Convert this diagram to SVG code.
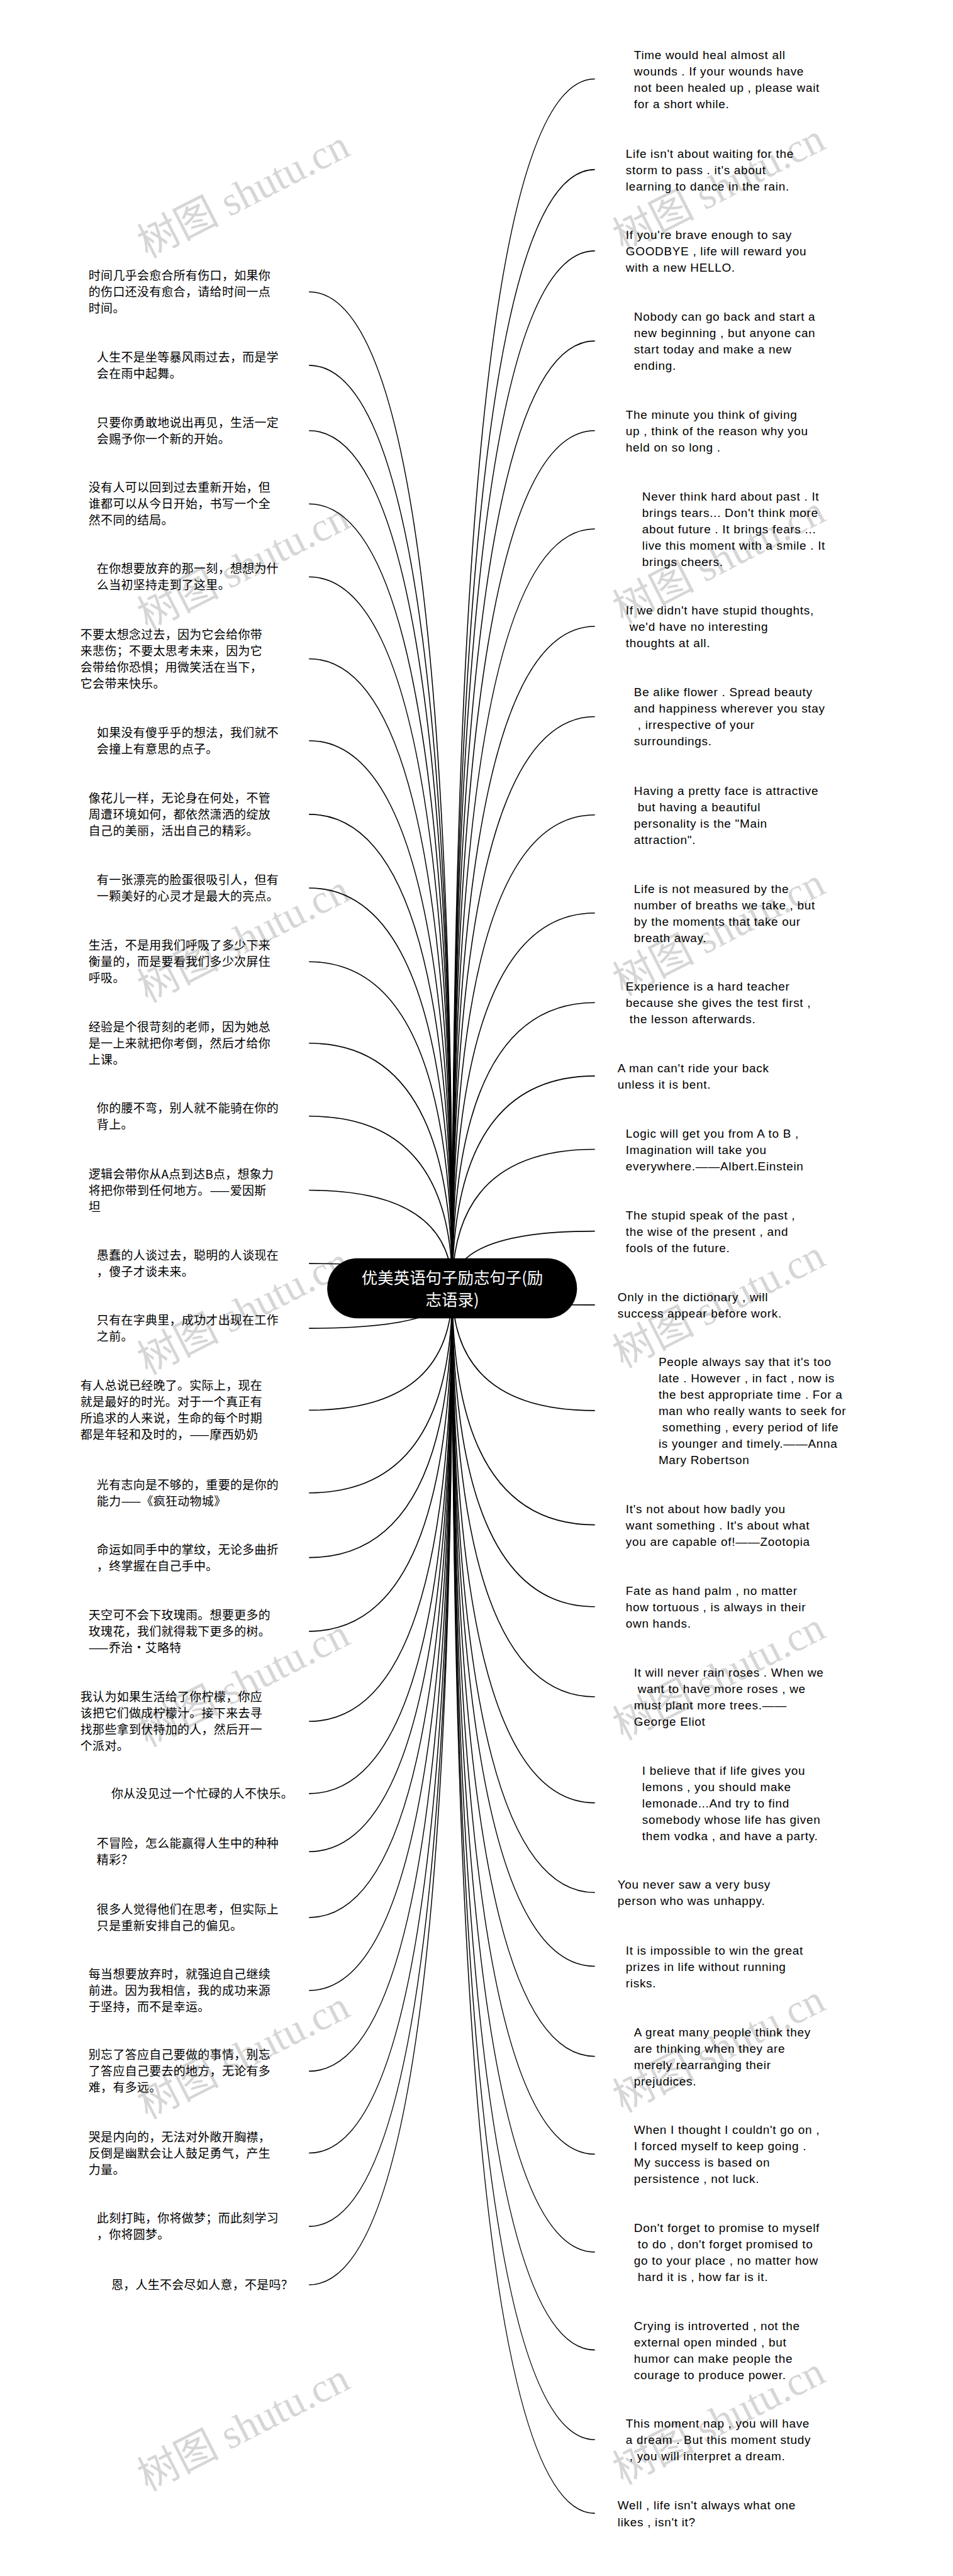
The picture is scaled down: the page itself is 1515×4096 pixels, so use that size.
<svg xmlns="http://www.w3.org/2000/svg" width="1515" height="4096" viewBox="0 0 1515 4096">
<style>
.en{font-family:"Liberation Sans",Arial,"Noto Sans CJK SC",sans-serif;font-size:32px;letter-spacing:1.2px;fill:#000}
.zh{font-family:"Noto Sans CJK SC","Liberation Sans",sans-serif;font-size:32px;letter-spacing:0.6px;fill:#000}
.root{font-family:"Noto Sans CJK SC","Liberation Sans",sans-serif;font-size:43px;fill:#fff;text-anchor:middle}
.wm{font-family:"Liberation Serif","Noto Sans CJK SC",serif;font-size:110px;fill:#d6d6d6}
.c{fill:none;stroke:#000;stroke-width:2.7}
</style>
<rect width="1515" height="4096" fill="#fff"/>
<g transform="scale(0.591797)">
<g id="watermarks">
<text class="wm" transform="translate(396,695) rotate(-27)">树图 shutu.cn</text>
<text class="wm" transform="translate(1673,677) rotate(-27)">树图 shutu.cn</text>
<text class="wm" transform="translate(396,1695) rotate(-27)">树图 shutu.cn</text>
<text class="wm" transform="translate(1673,1677) rotate(-27)">树图 shutu.cn</text>
<text class="wm" transform="translate(396,2695) rotate(-27)">树图 shutu.cn</text>
<text class="wm" transform="translate(1673,2677) rotate(-27)">树图 shutu.cn</text>
<text class="wm" transform="translate(396,3695) rotate(-27)">树图 shutu.cn</text>
<text class="wm" transform="translate(1673,3677) rotate(-27)">树图 shutu.cn</text>
<text class="wm" transform="translate(396,4695) rotate(-27)">树图 shutu.cn</text>
<text class="wm" transform="translate(1673,4677) rotate(-27)">树图 shutu.cn</text>
<text class="wm" transform="translate(396,5695) rotate(-27)">树图 shutu.cn</text>
<text class="wm" transform="translate(1673,5677) rotate(-27)">树图 shutu.cn</text>
<text class="wm" transform="translate(396,6695) rotate(-27)">树图 shutu.cn</text>
<text class="wm" transform="translate(1673,6677) rotate(-27)">树图 shutu.cn</text>
</g>
<g id="connectors">
<path class="c" d="M1215 3462Q1215 212 1598 212"/>
<path class="c" d="M1215 3462Q1215 455.6 1598 455.6"/>
<path class="c" d="M1215 3462Q1215 674 1598 674"/>
<path class="c" d="M1215 3462Q1215 916 1598 916"/>
<path class="c" d="M1215 3462Q1215 1157 1598 1157"/>
<path class="c" d="M1215 3462Q1215 1421 1598 1421"/>
<path class="c" d="M1215 3462Q1215 1683 1598 1683"/>
<path class="c" d="M1215 3462Q1215 1925.5 1598 1925.5"/>
<path class="c" d="M1215 3462Q1215 2189.6 1598 2189.6"/>
<path class="c" d="M1215 3462Q1215 2453 1598 2453"/>
<path class="c" d="M1215 3462Q1215 2694 1598 2694"/>
<path class="c" d="M1215 3462Q1215 2891 1598 2891"/>
<path class="c" d="M1215 3462Q1215 3088 1598 3088"/>
<path class="c" d="M1215 3462Q1215 3308 1598 3308"/>
<path class="c" d="M1215 3462Q1215 3506 1598 3506"/>
<path class="c" d="M1215 3462Q1215 3790 1598 3790"/>
<path class="c" d="M1215 3462Q1215 4097 1598 4097"/>
<path class="c" d="M1215 3462Q1215 4317 1598 4317"/>
<path class="c" d="M1215 3462Q1215 4559 1598 4559"/>
<path class="c" d="M1215 3462Q1215 4844 1598 4844"/>
<path class="c" d="M1215 3462Q1215 5085 1598 5085"/>
<path class="c" d="M1215 3462Q1215 5283 1598 5283"/>
<path class="c" d="M1215 3462Q1215 5525 1598 5525"/>
<path class="c" d="M1215 3462Q1215 5788 1598 5788"/>
<path class="c" d="M1215 3462Q1215 6051 1598 6051"/>
<path class="c" d="M1215 3462Q1215 6314 1598 6314"/>
<path class="c" d="M1215 3462Q1215 6555 1598 6555"/>
<path class="c" d="M1215 3462Q1215 6753 1598 6753"/>
<path class="c" d="M1215 3462Q1215 784 830 784"/>
<path class="c" d="M1215 3462Q1215 981.5 830 981.5"/>
<path class="c" d="M1215 3462Q1215 1157 830 1157"/>
<path class="c" d="M1215 3462Q1215 1354 830 1354"/>
<path class="c" d="M1215 3462Q1215 1550 830 1550"/>
<path class="c" d="M1215 3462Q1215 1770 830 1770"/>
<path class="c" d="M1215 3462Q1215 1990 830 1990"/>
<path class="c" d="M1215 3462Q1215 2188 830 2188"/>
<path class="c" d="M1215 3462Q1215 2386 830 2386"/>
<path class="c" d="M1215 3462Q1215 2584 830 2584"/>
<path class="c" d="M1215 3462Q1215 2803 830 2803"/>
<path class="c" d="M1215 3462Q1215 2999 830 2999"/>
<path class="c" d="M1215 3462Q1215 3198 830 3198"/>
<path class="c" d="M1215 3462Q1215 3395 830 3395"/>
<path class="c" d="M1215 3462Q1215 3569 830 3569"/>
<path class="c" d="M1215 3462Q1215 3789 830 3789"/>
<path class="c" d="M1215 3462Q1215 4011 830 4011"/>
<path class="c" d="M1215 3462Q1215 4185 830 4185"/>
<path class="c" d="M1215 3462Q1215 4383 830 4383"/>
<path class="c" d="M1215 3462Q1215 4625 830 4625"/>
<path class="c" d="M1215 3462Q1215 4819 830 4819"/>
<path class="c" d="M1215 3462Q1215 4975 830 4975"/>
<path class="c" d="M1215 3462Q1215 5152 830 5152"/>
<path class="c" d="M1215 3462Q1215 5348 830 5348"/>
<path class="c" d="M1215 3462Q1215 5565 830 5565"/>
<path class="c" d="M1215 3462Q1215 5785 830 5785"/>
<path class="c" d="M1215 3462Q1215 5982 830 5982"/>
<path class="c" d="M1215 3462Q1215 6139 830 6139"/>
</g>
<g id="root">
<rect x="879" y="3381" width="671" height="161" rx="80" ry="80" fill="#000"/>
<text class="root" x="1215" y="3449">优美英语句子励志句子(励</text>
<text class="root" x="1215" y="3508">志语录)</text>
</g>
<g id="r1"><text class="en" y="158"><tspan x="1703">Time would heal almost all</tspan><tspan x="1703" dy="44">wounds . If your wounds have</tspan><tspan x="1703" dy="44">not been healed up , please wait</tspan><tspan x="1703" dy="44">for a short while.</tspan></text></g>
<g id="r2"><text class="en" y="424"><tspan x="1681">Life isn't about waiting for the</tspan><tspan x="1681" dy="44">storm to pass . it's about</tspan><tspan x="1681" dy="44">learning to dance in the rain.</tspan></text></g>
<g id="r3"><text class="en" y="642"><tspan x="1681">If you're brave enough to say</tspan><tspan x="1681" dy="44">GOODBYE , life will reward you</tspan><tspan x="1681" dy="44">with a new HELLO.</tspan></text></g>
<g id="r4"><text class="en" y="862"><tspan x="1703">Nobody can go back and start a</tspan><tspan x="1703" dy="44">new beginning , but anyone can</tspan><tspan x="1703" dy="44">start today and make a new</tspan><tspan x="1703" dy="44">ending.</tspan></text></g>
<g id="r5"><text class="en" y="1125"><tspan x="1681">The minute you think of giving</tspan><tspan x="1681" dy="44">up , think of the reason why you</tspan><tspan x="1681" dy="44">held on so long .</tspan></text></g>
<g id="r6"><text class="en" y="1345"><tspan x="1725">Never think hard about past . It</tspan><tspan x="1725" dy="44">brings tears... Don't think more</tspan><tspan x="1725" dy="44">about future . It brings fears ...</tspan><tspan x="1725" dy="44">live this moment with a smile . It</tspan><tspan x="1725" dy="44">brings cheers.</tspan></text></g>
<g id="r7"><text class="en" y="1651"><tspan x="1681">If we didn't have stupid thoughts,</tspan><tspan x="1691" dy="44">we'd have no interesting</tspan><tspan x="1681" dy="44">thoughts at all.</tspan></text></g>
<g id="r8"><text class="en" y="1871"><tspan x="1703">Be alike flower . Spread beauty</tspan><tspan x="1703" dy="44">and happiness wherever you stay</tspan><tspan x="1713" dy="44">, irrespective of your</tspan><tspan x="1703" dy="44">surroundings.</tspan></text></g>
<g id="r9"><text class="en" y="2136"><tspan x="1703">Having a pretty face is attractive</tspan><tspan x="1713" dy="44">but having a beautiful</tspan><tspan x="1703" dy="44">personality is the "Main</tspan><tspan x="1703" dy="44">attraction".</tspan></text></g>
<g id="r10"><text class="en" y="2399"><tspan x="1703">Life is not measured by the</tspan><tspan x="1703" dy="44">number of breaths we take , but</tspan><tspan x="1703" dy="44">by the moments that take our</tspan><tspan x="1703" dy="44">breath away.</tspan></text></g>
<g id="r11"><text class="en" y="2662"><tspan x="1681">Experience is a hard teacher</tspan><tspan x="1681" dy="44">because she gives the test first ,</tspan><tspan x="1691" dy="44">the lesson afterwards.</tspan></text></g>
<g id="r12"><text class="en" y="2881"><tspan x="1659">A man can't ride your back</tspan><tspan x="1659" dy="44">unless it is bent.</tspan></text></g>
<g id="r13"><text class="en" y="3056"><tspan x="1681">Logic will get you from A to B ,</tspan><tspan x="1681" dy="44">Imagination will take you</tspan><tspan x="1681" dy="44">everywhere.——Albert.Einstein</tspan></text></g>
<g id="r14"><text class="en" y="3276"><tspan x="1681">The stupid speak of the past ,</tspan><tspan x="1681" dy="44">the wise of the present , and</tspan><tspan x="1681" dy="44">fools of the future.</tspan></text></g>
<g id="r15"><text class="en" y="3496"><tspan x="1659">Only in the dictionary , will</tspan><tspan x="1659" dy="44">success appear before work.</tspan></text></g>
<g id="r16"><text class="en" y="3670"><tspan x="1769">People always say that it's too</tspan><tspan x="1769" dy="44">late . However , in fact , now is</tspan><tspan x="1769" dy="44">the best appropriate time . For a</tspan><tspan x="1769" dy="44">man who really wants to seek for</tspan><tspan x="1779" dy="44">something , every period of life</tspan><tspan x="1769" dy="44">is younger and timely.——Anna</tspan><tspan x="1769" dy="44">Mary Robertson</tspan></text></g>
<g id="r17"><text class="en" y="4065"><tspan x="1681">It's not about how badly you</tspan><tspan x="1681" dy="44">want something . It's about what</tspan><tspan x="1681" dy="44">you are capable of!——Zootopia</tspan></text></g>
<g id="r18"><text class="en" y="4285"><tspan x="1681">Fate as hand palm , no matter</tspan><tspan x="1681" dy="44">how tortuous , is always in their</tspan><tspan x="1681" dy="44">own hands.</tspan></text></g>
<g id="r19"><text class="en" y="4505"><tspan x="1703">It will never rain roses . When we</tspan><tspan x="1713" dy="44">want to have more roses , we</tspan><tspan x="1703" dy="44">must plant more trees.——</tspan><tspan x="1703" dy="44">George Eliot</tspan></text></g>
<g id="r20"><text class="en" y="4768"><tspan x="1725">I believe that if life gives you</tspan><tspan x="1725" dy="44">lemons , you should make</tspan><tspan x="1725" dy="44">lemonade...And try to find</tspan><tspan x="1725" dy="44">somebody whose life has given</tspan><tspan x="1725" dy="44">them vodka , and have a party.</tspan></text></g>
<g id="r21"><text class="en" y="5075"><tspan x="1659">You never saw a very busy</tspan><tspan x="1659" dy="44">person who was unhappy.</tspan></text></g>
<g id="r22"><text class="en" y="5251"><tspan x="1681">It is impossible to win the great</tspan><tspan x="1681" dy="44">prizes in life without running</tspan><tspan x="1681" dy="44">risks.</tspan></text></g>
<g id="r23"><text class="en" y="5471"><tspan x="1703">A great many people think they</tspan><tspan x="1703" dy="44">are thinking when they are</tspan><tspan x="1703" dy="44">merely rearranging their</tspan><tspan x="1703" dy="44">prejudices.</tspan></text></g>
<g id="r24"><text class="en" y="5734"><tspan x="1703">When I thought I couldn't go on ,</tspan><tspan x="1703" dy="44">I forced myself to keep going .</tspan><tspan x="1703" dy="44">My success is based on</tspan><tspan x="1703" dy="44">persistence , not luck.</tspan></text></g>
<g id="r25"><text class="en" y="5997"><tspan x="1703">Don't forget to promise to myself</tspan><tspan x="1713" dy="44">to do , don't forget promised to</tspan><tspan x="1703" dy="44">go to your place , no matter how</tspan><tspan x="1713" dy="44">hard it is , how far is it.</tspan></text></g>
<g id="r26"><text class="en" y="6260"><tspan x="1703">Crying is introverted , not the</tspan><tspan x="1703" dy="44">external open minded , but</tspan><tspan x="1703" dy="44">humor can make people the</tspan><tspan x="1703" dy="44">courage to produce power.</tspan></text></g>
<g id="r27"><text class="en" y="6523"><tspan x="1681">This moment nap , you will have</tspan><tspan x="1681" dy="44">a dream . But this moment study</tspan><tspan x="1691" dy="44">, you will interpret a dream.</tspan></text></g>
<g id="r28"><text class="en" y="6743"><tspan x="1659">Well , life isn't always what one</tspan><tspan x="1659" dy="44">likes , isn't it?</tspan></text></g>
<g id="l1"><text class="zh" y="752"><tspan x="238">时间几乎会愈合所有伤口，如果你</tspan><tspan x="238" dy="44">的伤口还没有愈合，请给时间一点</tspan><tspan x="238" dy="44">时间。</tspan></text></g>
<g id="l2"><text class="zh" y="971.5"><tspan x="260">人生不是坐等暴风雨过去，而是学</tspan><tspan x="260" dy="44">会在雨中起舞。</tspan></text></g>
<g id="l3"><text class="zh" y="1147"><tspan x="260">只要你勇敢地说出再见，生活一定</tspan><tspan x="260" dy="44">会赐予你一个新的开始。</tspan></text></g>
<g id="l4"><text class="zh" y="1322"><tspan x="238">没有人可以回到过去重新开始，但</tspan><tspan x="238" dy="44">谁都可以从今日开始，书写一个全</tspan><tspan x="238" dy="44">然不同的结局。</tspan></text></g>
<g id="l5"><text class="zh" y="1540"><tspan x="260">在你想要放弃的那一刻，想想为什</tspan><tspan x="260" dy="44">么当初坚持走到了这里。</tspan></text></g>
<g id="l6"><text class="zh" y="1716"><tspan x="216">不要太想念过去，因为它会给你带</tspan><tspan x="216" dy="44">来悲伤；不要太思考未来，因为它</tspan><tspan x="216" dy="44">会带给你恐惧；用微笑活在当下，</tspan><tspan x="216" dy="44">它会带来快乐。</tspan></text></g>
<g id="l7"><text class="zh" y="1980"><tspan x="260">如果没有傻乎乎的想法，我们就不</tspan><tspan x="260" dy="44">会撞上有意思的点子。</tspan></text></g>
<g id="l8"><text class="zh" y="2156"><tspan x="238">像花儿一样，无论身在何处，不管</tspan><tspan x="238" dy="44">周遭环境如何，都依然潇洒的绽放</tspan><tspan x="238" dy="44">自己的美丽，活出自己的精彩。</tspan></text></g>
<g id="l9"><text class="zh" y="2376"><tspan x="260">有一张漂亮的脸蛋很吸引人，但有</tspan><tspan x="260" dy="44">一颗美好的心灵才是最大的亮点。</tspan></text></g>
<g id="l10"><text class="zh" y="2552"><tspan x="238">生活，不是用我们呼吸了多少下来</tspan><tspan x="238" dy="44">衡量的，而是要看我们多少次屏住</tspan><tspan x="238" dy="44">呼吸。</tspan></text></g>
<g id="l11"><text class="zh" y="2771"><tspan x="238">经验是个很苛刻的老师，因为她总</tspan><tspan x="238" dy="44">是一上来就把你考倒，然后才给你</tspan><tspan x="238" dy="44">上课。</tspan></text></g>
<g id="l12"><text class="zh" y="2989"><tspan x="260">你的腰不弯，别人就不能骑在你的</tspan><tspan x="260" dy="44">背上。</tspan></text></g>
<g id="l13"><text class="zh" y="3166"><tspan x="238">逻辑会带你从A点到达B点，想象力</tspan><tspan x="238" dy="44">将把你带到任何地方。——爱因斯</tspan><tspan x="238" dy="44">坦</tspan></text></g>
<g id="l14"><text class="zh" y="3385"><tspan x="260">愚蠢的人谈过去，聪明的人谈现在</tspan><tspan x="260" dy="44">，傻子才谈未来。</tspan></text></g>
<g id="l15"><text class="zh" y="3559"><tspan x="260">只有在字典里，成功才出现在工作</tspan><tspan x="260" dy="44">之前。</tspan></text></g>
<g id="l16"><text class="zh" y="3735"><tspan x="216">有人总说已经晚了。实际上，现在</tspan><tspan x="216" dy="44">就是最好的时光。对于一个真正有</tspan><tspan x="216" dy="44">所追求的人来说，生命的每个时期</tspan><tspan x="216" dy="44">都是年轻和及时的，——摩西奶奶</tspan></text></g>
<g id="l17"><text class="zh" y="4001"><tspan x="260">光有志向是不够的，重要的是你的</tspan><tspan x="260" dy="44">能力——《疯狂动物城》</tspan></text></g>
<g id="l18"><text class="zh" y="4175"><tspan x="260">命运如同手中的掌纹，无论多曲折</tspan><tspan x="260" dy="44">，终掌握在自己手中。</tspan></text></g>
<g id="l19"><text class="zh" y="4351"><tspan x="238">天空可不会下玫瑰雨。想要更多的</tspan><tspan x="238" dy="44">玫瑰花，我们就得栽下更多的树。</tspan><tspan x="238" dy="44">——乔治·艾略特</tspan></text></g>
<g id="l20"><text class="zh" y="4571"><tspan x="216">我认为如果生活给了你柠檬，你应</tspan><tspan x="216" dy="44">该把它们做成柠檬汁。接下来去寻</tspan><tspan x="216" dy="44">找那些拿到伏特加的人，然后开一</tspan><tspan x="216" dy="44">个派对。</tspan></text></g>
<g id="l21"><text class="zh" y="4831"><tspan x="299">你从没见过一个忙碌的人不快乐。</tspan></text></g>
<g id="l22"><text class="zh" y="4965"><tspan x="260">不冒险，怎么能赢得人生中的种种</tspan><tspan x="260" dy="44">精彩？</tspan></text></g>
<g id="l23"><text class="zh" y="5142"><tspan x="260">很多人觉得他们在思考，但实际上</tspan><tspan x="260" dy="44">只是重新安排自己的偏见。</tspan></text></g>
<g id="l24"><text class="zh" y="5316"><tspan x="238">每当想要放弃时，就强迫自己继续</tspan><tspan x="238" dy="44">前进。因为我相信，我的成功来源</tspan><tspan x="238" dy="44">于坚持，而不是幸运。</tspan></text></g>
<g id="l25"><text class="zh" y="5533"><tspan x="238">别忘了答应自己要做的事情，别忘</tspan><tspan x="238" dy="44">了答应自己要去的地方，无论有多</tspan><tspan x="238" dy="44">难，有多远。</tspan></text></g>
<g id="l26"><text class="zh" y="5753"><tspan x="238">哭是内向的，无法对外敞开胸襟，</tspan><tspan x="238" dy="44">反倒是幽默会让人鼓足勇气，产生</tspan><tspan x="238" dy="44">力量。</tspan></text></g>
<g id="l27"><text class="zh" y="5972"><tspan x="260">此刻打盹，你将做梦；而此刻学习</tspan><tspan x="260" dy="44">，你将圆梦。</tspan></text></g>
<g id="l28"><text class="zh" y="6151"><tspan x="299">恩，人生不会尽如人意，不是吗？</tspan></text></g>
</g>
</svg>
